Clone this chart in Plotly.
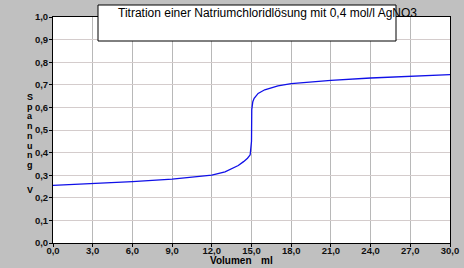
import plotly.graph_objects as go

# Data
volumen_ml = [0, 3, 6, 9, 11, 12, 13, 13.6, 14, 14.4, 14.7, 14.9, 15.0, 15.02, 15.1,
              15.2, 15.5, 16, 17, 18, 19, 21, 24, 27, 30]
spannung_v = [0.255, 0.262, 0.272, 0.283, 0.293, 0.300, 0.315, 0.330, 0.343, 0.360,
              0.375, 0.390, 0.450, 0.590, 0.625, 0.640, 0.662, 0.678, 0.695, 0.705,
              0.711, 0.720, 0.730, 0.738, 0.745]
x_ticks = [0, 3, 6, 9, 12, 15, 18, 21, 24, 27, 30]
y_ticks = [0, 0.1, 0.2, 0.3, 0.4, 0.5, 0.6, 0.7, 0.8, 0.9, 1.0]
title_text = "Titration einer Natriumchloridlösung mit 0,4 mol/l AgNO3"
y_title_letters = "Spannung"
y_unit = "V"
x_title = "Volumen"
x_unit = "ml"

FONT = "Liberation Sans, Arial, sans-serif"
L, R, T, B = 53, 450, 17, 243
W, H = R - L, B - T


def px(x):
    return (x - L) / W


def py(y):
    return (B - y) / H


fig = go.Figure()
fig.add_trace(go.Scatter(x=volumen_ml, y=spannung_v, mode="lines",
                         line=dict(color="#1010e8", width=1.3), hoverinfo="skip"))

tickfont = dict(family=FONT, size=9.5, color="#101010", weight="bold")

fig.update_layout(
    width=464, height=268,
    margin=dict(l=L, r=464 - R, t=T, b=268 - B, autoexpand=False),
    paper_bgcolor="#c0c0c0",
    plot_bgcolor="#ffffff",
    showlegend=False,
    separators=", ",
    xaxis=dict(range=[0, 30], tickvals=x_ticks, tickformat=".1f",
               showgrid=True, gridcolor="#b8b8b8", gridwidth=1,
               showline=True, linecolor="#000000", linewidth=1, mirror=True,
               ticks="outside", ticklen=3, tickcolor="#000000", automargin=False,
               ticklabelstandoff=-4,
               tickfont=tickfont, zeroline=False, fixedrange=True),
    yaxis=dict(range=[0, 1], tickvals=y_ticks, tickformat=".1f",
               showgrid=True, gridcolor="#d4cccc", gridwidth=1,
               showline=True, linecolor="#000000", linewidth=1, mirror=True,
               ticks="outside", ticklen=3, tickcolor="#000000", automargin=False,
               ticklabelstandoff=-1,
               tickfont=tickfont, zeroline=False, fixedrange=True),
)

# Title box
fig.add_shape(type="rect", xref="paper", yref="paper",
              x0=px(98), x1=px(396), y0=py(41), y1=py(5),
              fillcolor="#ffffff", line=dict(color="#000000", width=1), layer="above")
fig.add_annotation(text=title_text, xref="paper", yref="paper",
                   x=px(116), y=py(13), xanchor="left", yanchor="middle",
                   showarrow=False,
                   font=dict(family=FONT, size=12, color="#000000"))

# Y-axis title as stacked letters
for i, ch in enumerate(y_title_letters):
    fig.add_annotation(text=ch, xref="paper", yref="paper",
                       x=px(30), y=py(97 + i * 9.7), xanchor="center", yanchor="middle",
                       showarrow=False,
                       font=dict(family=FONT, size=9, color="#000000", weight="bold"))
fig.add_annotation(text=y_unit, xref="paper", yref="paper",
                   x=px(30), y=py(190), xanchor="center", yanchor="middle",
                   showarrow=False,
                   font=dict(family=FONT, size=9, color="#000000", weight="bold"))

# X-axis title
fig.add_annotation(text=x_title, xref="paper", yref="paper",
                   x=px(230), y=py(260), xanchor="center", yanchor="middle",
                   showarrow=False,
                   font=dict(family=FONT, size=10, color="#000000", weight="bold"))
fig.add_annotation(text=x_unit, xref="paper", yref="paper",
                   x=px(267), y=py(260), xanchor="center", yanchor="middle",
                   showarrow=False,
                   font=dict(family=FONT, size=10, color="#000000", weight="bold"))

fig.write_html("out.html", config={"displayModeBar": False})
